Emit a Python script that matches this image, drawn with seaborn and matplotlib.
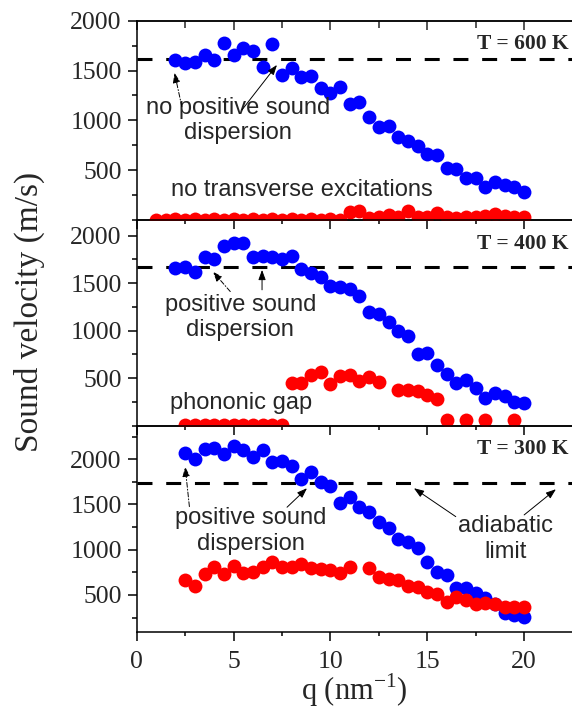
import numpy as np
import pandas as pd
import matplotlib.pyplot as plt
import seaborn as sns
from matplotlib.ticker import MultipleLocator

sns.set_style('ticks')
plt.rcParams['font.family'] = ['Liberation Serif', 'DejaVu Serif']
plt.rcParams['mathtext.fontset'] = 'custom'
plt.rcParams['mathtext.rm'] = 'Liberation Serif'

BLUE = '#0000ff'
RED = '#ff0000'
SANS = 'Liberation Sans'

# ---- T = 600 K ----
q600_long = [2.0, 2.5, 3.0, 3.5, 4.0, 4.5, 5.0, 5.5, 6.0, 6.5, 7.0, 7.5, 8.0, 8.5,
             9.0, 9.5, 10.0, 10.5, 11.0, 11.5, 12.0, 12.5, 13.0, 13.5, 14.0, 14.5,
             15.0, 15.5, 16.0, 16.5, 17.0, 17.5, 18.0, 18.5, 19.0, 19.5, 20.0]
v600_long = [1606, 1573, 1589, 1656, 1606, 1779, 1656, 1723, 1696, 1539, 1763, 1455,
             1523, 1432, 1445, 1322, 1272, 1332, 1161, 1188, 1037, 931, 944, 830,
             796, 743, 663, 653, 520, 510, 419, 419, 335, 385, 352, 329, 279]
q600_trans = [1.0, 1.5, 2.0, 2.5, 3.0, 3.5, 4.0, 4.5, 5.0, 5.5, 6.0, 6.5, 7.0, 7.5,
              8.0, 8.5, 9.0, 9.5, 10.0, 10.5, 11.0, 11.5, 12.0, 12.5, 13.0, 13.5,
              14.0, 14.5, 15.0, 15.5, 16.0, 16.5, 17.0, 17.5, 18.0, 18.5, 19.0, 19.5, 20.0]
v600_trans = [5, 5, 10, 5, 10, 5, 10, 5, 10, 5, 10, 5, 10, 5,
              10, 5, 10, 5, 10, 5, 85, 90, 20, 30, 55, 30,
              90, 30, 35, 75, 30, 25, 30, 35, 40, 65, 45, 35, 30]
limit600 = 1612

# ---- T = 400 K ----
q400_long = [2.0, 2.5, 3.0, 3.5, 4.0, 4.5, 5.0, 5.5, 6.0, 6.5, 7.0, 7.5, 8.0, 8.5,
             9.0, 9.5, 10.0, 10.5, 11.0, 11.5, 12.0, 12.5, 13.0, 13.5, 14.0, 14.5,
             15.0, 15.5, 16.0, 16.5, 17.0, 17.5, 18.0, 18.5, 19.0, 19.5, 20.0]
v400_long = [1664, 1675, 1622, 1780, 1752, 1895, 1927, 1920, 1773, 1787, 1773, 1752,
             1787, 1647, 1605, 1563, 1472, 1465, 1437, 1367, 1192, 1178, 1087, 993,
             948, 759, 766, 643, 549, 451, 486, 399, 294, 346, 311, 248, 234]
q400_trans = [2.5, 3.0, 3.5, 4.0, 4.5, 5.0, 5.5, 6.0, 6.5, 7.0, 7.5,
              8.0, 8.5, 9.0, 9.5, 10.0, 10.5, 11.0, 11.5, 12.0, 12.5,
              13.5, 14.0, 14.5, 15.0, 15.5,
              16.0, 17.0, 18.0, 19.5]
v400_trans = [10, 10, 10, 10, 10, 10, 10, 10, 10, 10, 10,
              451, 451, 538, 562, 444, 520, 538, 468, 514, 458,
              381, 381, 363, 318, 283,
              60, 65, 65, 60]
limit400 = 1675

# ---- T = 300 K ----
q300_long = [2.5, 3.0, 3.5, 4.0, 4.5, 5.0, 5.5, 6.0, 6.5, 7.0, 7.5, 8.0, 8.5,
             9.0, 9.5, 10.0, 10.5, 11.0, 11.5, 12.0, 12.5, 13.0, 13.5, 14.0, 14.5,
             15.0, 15.5, 16.0, 16.5, 17.0, 17.5, 18.0, 18.5, 19.0, 19.5, 20.0]
v300_long = [2066, 2000, 2111, 2122, 2055, 2147, 2103, 2022, 2103, 1974, 1981, 1926,
             1782, 1863, 1752, 1705, 1513, 1580, 1469, 1420, 1310, 1237, 1115, 1088,
             1015, 867, 757, 720, 573, 573, 518, 462, 399, 303, 278, 252]
q300_trans = [2.5, 3.0, 3.5, 4.0, 4.5, 5.0, 5.5, 6.0, 6.5, 7.0, 7.5, 8.0, 8.5,
              9.0, 9.5, 10.0, 10.5, 11.0,
              12.0, 12.5, 13.0, 13.5, 14.0, 14.5, 15.0, 15.5, 16.0, 16.5,
              17.0, 17.5, 18.0, 18.5, 19.0, 19.5, 20.0]
v300_trans = [665, 598, 731, 812, 731, 820, 746, 757, 812, 867, 812, 812, 842,
              794, 783, 775, 739, 812,
              794, 701, 672, 665, 598, 591, 535, 510, 425, 480,
              443, 399, 414, 399, 369, 363, 369]
limit300 = 1735

panels = [
    dict(ql=q600_long, vl=v600_long, qt=q600_trans, vt=v600_trans,
         limit=limit600, ylim=(0, 2000), label='T = 600 K', ly=1763),
    dict(ql=q400_long, vl=v400_long, qt=q400_trans, vt=v400_trans,
         limit=limit400, ylim=(0, 2165), label='T = 400 K', ly=1913),
    dict(ql=q300_long, vl=v300_long, qt=q300_trans, vt=v300_trans,
         limit=limit300, ylim=(90, 2370), label='T = 300 K', ly=2111),
]

W, H = 572, 709
fig = plt.figure(figsize=(W / 100, H / 100), dpi=100)
left = 136.7 / W
width = 1 - left
edges = [20.7, 220, 425.7, 632]   # panel boundaries in pixels from top

axes = []
for i, p in enumerate(panels):
    bot = 1 - edges[i + 1] / H
    hgt = (edges[i + 1] - edges[i]) / H
    ax = fig.add_axes([left, bot, width, hgt])
    ax.set_facecolor('none')
    sns.scatterplot(x=p['ql'], y=p['vl'], color=BLUE, s=100, linewidth=0, ax=ax, zorder=3)
    sns.scatterplot(x=p['qt'], y=p['vt'], color=RED, s=100, linewidth=0, ax=ax, zorder=4)
    ax.axhline(p['limit'], color='k', lw=2.2, dashes=(4.9, 4.5), zorder=2)
    ax.set_xlim(0, 22.47)
    ax.set_ylim(*p['ylim'])
    ax.set_yticks([500, 1000, 1500, 2000])
    ax.yaxis.set_minor_locator(MultipleLocator(250))
    ax.xaxis.set_major_locator(MultipleLocator(5))
    ax.xaxis.set_minor_locator(MultipleLocator(2.5))
    ax.tick_params(axis='both', which='both', direction='out', width=1.1,
                   right=False, top=False, labelsize=18.5, color='k')
    ax.tick_params(axis='y', which='major', length=6.5, pad=4.3)
    ax.tick_params(axis='y', which='minor', length=3.6)
    ax.tick_params(axis='x', which='major', length=6.5, pad=7)
    ax.tick_params(axis='x', which='minor', length=3.2)
    ax.spines['right'].set_visible(False)
    for s in ['left', 'top', 'bottom']:
        ax.spines[s].set_linewidth(1.1)
        ax.spines[s].set_color('k')
    if i < 2:
        ax.tick_params(axis='x', labelbottom=False)
    ax.set_xlabel('')
    ax.set_ylabel('')
    ax.text(22.3, p['ly'], p['label'], ha='right', va='center',
            fontsize=15.5, fontweight='bold')
    axes.append(ax)

# top ticks of upper panel point inwards
top = axes[0].secondary_xaxis('top')
top.xaxis.set_major_locator(MultipleLocator(5))
top.xaxis.set_minor_locator(MultipleLocator(2.5))
top.tick_params(which='both', direction='in', labeltop=False, width=1.1)
top.tick_params(which='major', length=6.5)
top.tick_params(which='minor', length=5)
top.spines['top'].set_linewidth(1.1)

dashdot = (0, (5, 2, 1, 2))
def arrow(ax, tail, head, ls='-'):
    ax.annotate('', xy=head, xytext=tail,
                arrowprops=dict(arrowstyle='-|>,head_length=0.6,head_width=0.22',
                                lw=0.7, color='k', ls=ls, shrinkA=0, shrinkB=0),
                zorder=5)

# annotations, 600 K
ax = axes[0]
ax.text(5.25, 1000, 'no positive sound\ndispersion', family=SANS, fontsize=17,
        ha='center', va='center', linespacing=1.2)
arrow(ax, (2.33, 1137), (1.95, 1478), dashdot)
arrow(ax, (5.43, 1104), (7.24, 1556))
ax.text(8.53, 302, 'no transverse excitations', family=SANS, fontsize=17,
        ha='center', va='center')

# annotations, 400 K
ax = axes[1]
ax.text(5.35, 1136, 'positive sound\ndispersion', family=SANS, fontsize=17,
        ha='center', va='center', linespacing=1.2)
arrow(ax, (4.83, 1412), (3.93, 1622), dashdot)
arrow(ax, (6.47, 1430), (6.47, 1640))
ax.text(5.41, 241, 'phononic gap', family=SANS, fontsize=17,
        ha='center', va='center')

# annotations, 300 K
ax = axes[2]
ax.text(5.9, 1207, 'positive sound\ndispersion', family=SANS, fontsize=17,
        ha='center', va='center', linespacing=1.2)
arrow(ax, (2.72, 1476), (2.5, 1918), dashdot)
arrow(ax, (7.76, 1469), (8.79, 1679))
ax.text(19.05, 1118, 'adiabatic\nlimit', family=SANS, fontsize=17,
        ha='center', va='center', linespacing=1.2)
arrow(ax, (16.47, 1365), (14.31, 1679))
arrow(ax, (20.0, 1384), (21.64, 1668))

axes[2].set_xlabel('q (nm$^{\\mathregular{-1}}$)', fontsize=22, labelpad=-1)
fig.text(29 / W, 1 - 311.5 / H, 'Sound velocity (m/s)', rotation=90,
         fontsize=24, ha='center', va='center')

fig.savefig('out.png', dpi=100)
